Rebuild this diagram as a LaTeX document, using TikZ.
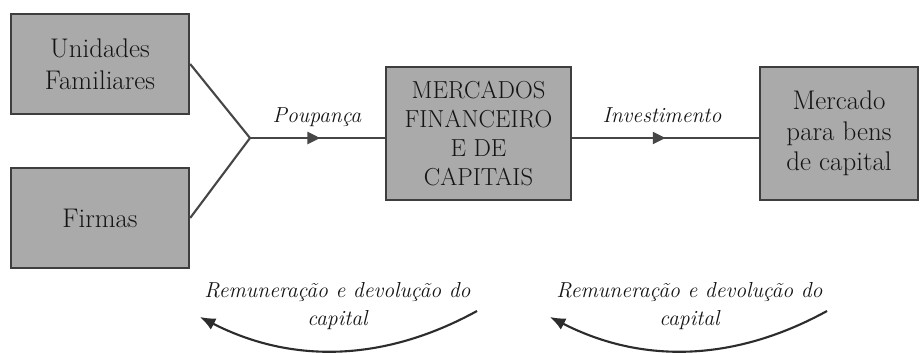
\documentclass[tikz,border=0pt]{standalone}
\usepackage{fontspec}
\usepackage{xcolor}
\definecolor{Caixa-fundo}{RGB}{170, 170, 170}
\definecolor{Caixa-borda}{RGB}{62, 62, 62}
\definecolor{Linha}{RGB}{70, 70, 70}
\definecolor{Texto}{RGB}{20, 20, 20}
\usetikzlibrary{arrows.meta,decorations.markings,calc}

\begin{document}
\begin{tikzpicture} [ % estilos das caixas e das setas
    x=0.03cm, y=-0.03cm, >={Triangle[length=3.8mm,width=3.6mm]},
    rec/.style = {shape = rectangle, minimum width = 5.34cm, minimum height = 3cm, inner sep = 0pt, align = center, fill = Caixa-fundo, draw = Caixa-borda, line width = 2pt, text = Texto, font = \fontsize{23}{27}\selectfont},
    rec2/.style = {rec, minimum width = 5.55cm, minimum height = 3.99cm, font = \fontsize{21}{25}\selectfont},
    rec3/.style = {rec, minimum width = 4.74cm, minimum height = 3.99cm, font = \fontsize{23}{26}\selectfont},
    rotulo/.style = {align = center, inner sep = 2pt, text = Texto, font = \itshape\fontsize{18.5}{24}\selectfont},
    fluxo/.style = {draw = Linha, color = Linha, line width = 1.8pt},
    seta-meio/.style = {fluxo, postaction = {decorate}, decoration = {markings, mark = at position #1 with {\arrow{>}}}},
    retorno/.style = {draw = Texto!90, line width = 1.8pt, -{Latex[length=4.6mm,width=3.8mm]}}
]

\useasboundingbox (0,0) rectangle (923,352);

% caixas da esquerda
\node [rec] (uf) at (100,64){Unidades\\Familiares};
\node [rec] (fi) at (100,218){Firmas};

% caixa do meio e da direita
\node [rec2] (mfc) at (478.5,133.5){MERCADOS\\FINANCEIRO\\E DE\\CAPITAIS};
\node [rec3] (mbc) at (839,133.5){Mercado\\para bens\\de capital};

% rotulos
\node [rotulo] (poup) at (317,117){Poupança};
\node [rotulo] (inv) at (662,115){Investimento};
\node [rotulo] (rem1) at (337.5,306){Remuneração e devolução do\\capital};
\node [rotulo] (rem2) at (689.5,306){Remuneração e devolução do\\capital};

% pontos
\coordinate (jun) at (250,138);
\coordinate (r1a) at (477,311);
\coordinate (r1b) at (200,317);
\coordinate (r2a) at (827,311);
\coordinate (r2b) at (550,317);

% linhas
\draw [fluxo] (uf.east)--(jun)--(fi.east);
\draw [seta-meio=0.52] (jun)--(jun -| mfc.west);
\draw [seta-meio=0.5] (mfc.east |- jun)--(mbc.west |- jun);

\draw [retorno] (r1a) .. controls (384,362) and (292,364) .. (r1b);
\draw [retorno] (r2a) .. controls (734,362) and (642,364) .. (r2b);

\end{tikzpicture}
\end{document}
